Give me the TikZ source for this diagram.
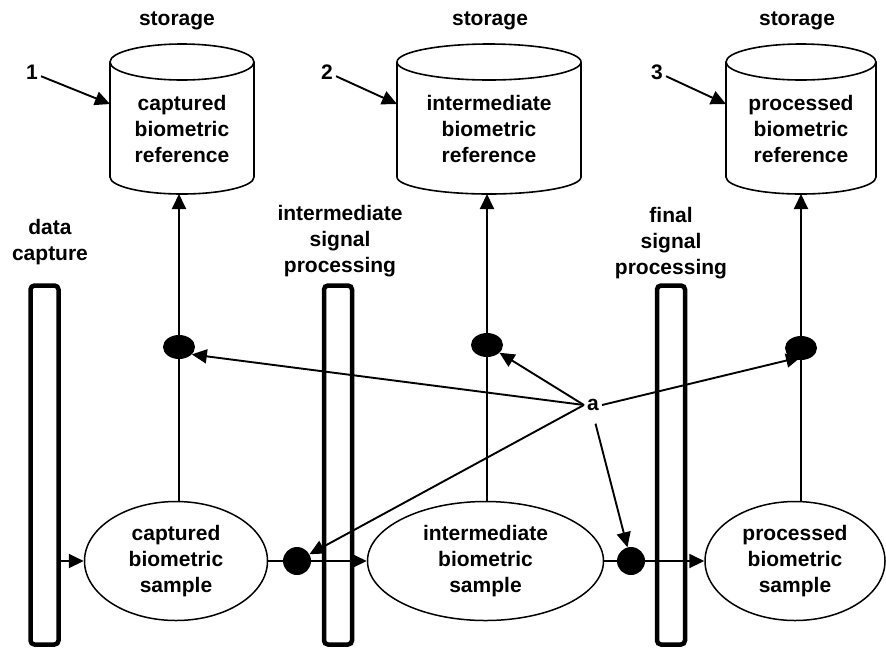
\documentclass[tikz,border=0pt]{standalone}
\usepackage{fontspec}
\setmainfont{Liberation Sans}
\usetikzlibrary{arrows.meta,shapes.geometric}

\tikzset{
  txt/.style={font=\bfseries\fontsize{21}{26}\selectfont, align=center, inner sep=3pt},
  bar/.style={draw, line width=4.5pt, rounded corners=4pt, minimum width=28pt, minimum height=359pt, inner sep=0pt},
  sample/.style={txt, draw, ellipse, line width=1.5pt, inner sep=0pt},
  dot/.style={fill, ellipse, inner sep=0pt},
  outline/.style={line width=1.6pt},
  conn/.style={line width=1.9pt},
  arr/.style={conn, -{Triangle[length=15pt,width=14pt]}},
}

\begin{document}
\begin{tikzpicture}[x=1pt,y=-1pt]
\useasboundingbox (0,0) rectangle (886,649);
\coordinate (cyl1w) at (110,104);
\coordinate (cyl2w) at (397,104);
\coordinate (cyl3w) at (726,104);
\coordinate (cyl1s) at (179,194);
\coordinate (cyl2s) at (487,194);
\coordinate (cyl3s) at (801,194);
% storage cylinders
\draw[outline] (182,62) ellipse [x radius=72, y radius=18];
\draw[outline] (110,62) -- (110,177) arc[start angle=180, end angle=0, x radius=72, y radius=17] -- (254,62);
\draw[outline] (489,62) ellipse [x radius=92, y radius=18];
\draw[outline] (397,62) -- (397,177) arc[start angle=180, end angle=0, x radius=92, y radius=17] -- (581,62);
\draw[outline] (801,62) ellipse [x radius=75, y radius=18];
\draw[outline] (726,62) -- (726,177) arc[start angle=180, end angle=0, x radius=75, y radius=17] -- (876,62);
\node[txt] (ref1) at (182,129) {captured\\biometric\\reference};
\node[txt] (ref2) at (489,129) {intermediate\\biometric\\reference};
\node[txt] (ref3) at (801,129) {processed\\biometric\\reference};
\node[txt] (st1) at (177,21) {storage};
\node[txt] (st2) at (490,21) {storage};
\node[txt] (st3) at (797,21) {storage};
\node[txt] (n1) at (32,72) {1};
\node[txt] (n2) at (327,72) {2};
\node[txt] (n3) at (657,72) {3};
\draw[arr] (n1.-25) -- (cyl1w);
\draw[arr] (n2.-25) -- (cyl2w);
\draw[arr] (n3.-25) -- (cyl3w);
% process bars
\node[bar] (bar1) at (44.5,465) {};
\node[bar] (bar2) at (338,465) {};
\node[bar] (bar3) at (671,465) {};
\node[txt] (lcap) at (50,242.5) {data\\capture};
\node[txt] (lint) at (340,241) {intermediate\\signal\\processing};
\node[txt] (lfin) at (671,243) {final\\signal\\processing};
% samples
\node[sample, minimum width=183pt, minimum height=119pt] (samp1) at (176,561) {captured\\biometric\\sample};
\node[sample, minimum width=236pt, minimum height=119pt] (samp2) at (485.5,561) {intermediate\\biometric\\sample};
\node[sample, minimum width=180pt, minimum height=119pt] (samp3) at (795,561) {processed\\biometric\\sample};
\node[dot, minimum width=32pt, minimum height=24pt] (dotA) at (179,347) {};
\node[dot, minimum width=32pt, minimum height=24pt] (dotB) at (487,345) {};
\node[dot, minimum width=32pt, minimum height=24pt] (dotC) at (801,348) {};
\node[dot, minimum width=28pt, minimum height=28pt] (dotD) at (297,561) {};
\node[dot, minimum width=28pt, minimum height=28pt] (dotE) at (631,561) {};
\node[txt] (a) at (593,405) {a};
% flow
\draw[arr] (bar1.east |- samp1.west) -- (samp1.west);
\draw[conn] (samp1.east) -- (dotD);
\draw[arr] (dotD) -- (samp2.west);
\draw[conn] (samp2.east) -- (dotE);
\draw[arr] (dotE) -- (samp3.west);
\draw[conn] (dotA |- samp1.north) -- (dotA);
\draw[conn] (dotB |- samp2.north) -- (dotB);
\draw[conn] (dotC |- samp3.north) -- (dotC);
\draw[arr] (dotA) -- (cyl1s);
\draw[arr] (dotB) -- (cyl2s);
\draw[arr] (dotC) -- (cyl3s);
% note a
\draw[arr] (a.west) -- (dotA.-30);
\draw[arr] (a.west) -- (dotB);
\draw[arr] (a.west) -- (dotD);
\draw[arr] (a.east) -- ([yshift=-9pt]dotC.center);
\draw[arr, shorten <=10pt] (a.south) -- (dotE);
\end{tikzpicture}
\end{document}
